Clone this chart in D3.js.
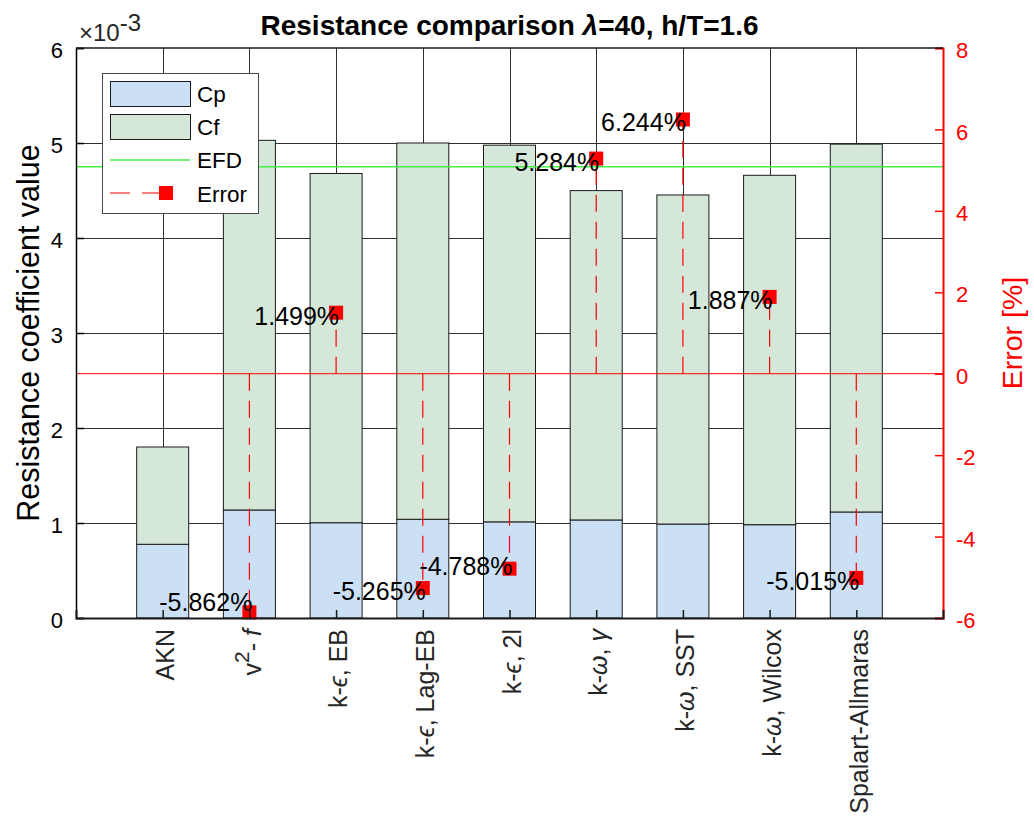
<!DOCTYPE html>
<html>
<head>
<meta charset="utf-8">
<script src="https://cdn.jsdelivr.net/npm/d3@7"></script>
<style>
  body { margin: 0; background: #fff; }
  svg { display: block; font-family: "Liberation Sans", Arial, "DejaVu Sans", sans-serif; }
</style>
</head>
<body>
<svg id="chart" width="1034" height="823"></svg>
<script>
// Turbulence models, in plotting order
const categories = ["AKN", "v2-f", "k-eps EB", "k-eps Lag-EB", "k-eps 2l",
                    "k-omega gamma", "k-omega SST", "k-omega Wilcox", "Spalart-Allmaras"];

// Tick labels as runs of [text, style]; style: "it" italic, "sup" superscript
const tickLabels = [
  [["AKN"]],
  [["v"], ["2", "sup"], ["- "], ["f", "it"]],
  [["k-"], ["\u03F5", "it"], [", EB"]],
  [["k-"], ["\u03F5", "it"], [", Lag-EB"]],
  [["k-"], ["\u03F5", "it"], [", 2l"]],
  [["k-"], ["\u03C9", "it"], [", "], ["\u03B3", "it"]],
  [["k-"], ["\u03C9", "it"], [", SST"]],
  [["k-"], ["\u03C9", "it"], [", Wilcox"]],
  [["Spalart-Allmaras"]]
];

// Resistance coefficients (x 10^-3): pressure and friction parts
const cp = [0.776, 1.137, 1.003, 1.039, 1.012, 1.032, 0.989, 0.982, 1.116];
const cf = [1.024, 3.891, 3.676, 3.961, 3.965, 3.467, 3.464, 3.678, 3.872];

// Experimental (EFD) total resistance coefficient (x 10^-3)
const efd = 4.75;

// Error of each model against EFD, in percent (AKN not evaluated)
const errorPct = [null, -5.862, 1.499, -5.265, -4.788, 5.284, 6.244, 1.887, -5.015];

const leftTicks = [0, 1, 2, 3, 4, 5, 6];
const rightTicks = [-6, -4, -2, 0, 2, 4, 6, 8];

// ---- layout ----
const L = 76, R = 943, T = 48, B = 618;

const svg = d3.select("#chart");

const x = d3.scaleLinear().domain([0, categories.length + 1]).range([L, R]);
const y = d3.scaleLinear().domain([0, 6]).range([B, T]);
const yR = d3.scaleLinear().domain([-6, 8]).range([B, T]);
const barW = (x(1) - x(0)) * 0.6;

const colCp = "#cbdff5";
const colCf = "#d5e7d9";
const red = "#ff0000";
const hyphen = s => s.replace(/\u2212/g, "-");

// ---- grid ----
const grid = svg.append("g").attr("stroke", "#303030").attr("stroke-width", 1);
categories.forEach((c, i) => {
  const gx = Math.round(x(i + 1)) + 0.5;
  grid.append("line").attr("x1", gx).attr("x2", gx).attr("y1", T).attr("y2", B);
});
leftTicks.filter(v => v > 0 && v < 6).forEach(v => {
  const gy = Math.round(y(v)) + 0.5;
  grid.append("line").attr("x1", L).attr("x2", R).attr("y1", gy).attr("y2", gy);
});

// ---- stacked bars ----
const bars = svg.append("g").attr("stroke", "#1a1a1a").attr("stroke-width", 1);
bars.selectAll("rect.cp").data(cp).join("rect")
  .attr("class", "cp")
  .attr("x", (d, i) => x(i + 1) - barW / 2)
  .attr("width", barW)
  .attr("y", d => y(d))
  .attr("height", d => y(0) - y(d))
  .attr("fill", colCp);
bars.selectAll("rect.cf").data(cf).join("rect")
  .attr("class", "cf")
  .attr("x", (d, i) => x(i + 1) - barW / 2)
  .attr("width", barW)
  .attr("y", (d, i) => y(cp[i] + d))
  .attr("height", (d, i) => y(cp[i]) - y(cp[i] + d))
  .attr("fill", colCf);

// ---- EFD reference line ----
svg.append("line")
  .attr("x1", L).attr("x2", R)
  .attr("y1", y(efd)).attr("y2", y(efd))
  .attr("stroke", "#45f045").attr("stroke-width", 1.6);

// ---- error stems (right axis) ----
svg.append("line")
  .attr("x1", L).attr("x2", R)
  .attr("y1", yR(0)).attr("y2", yR(0))
  .attr("stroke", red).attr("stroke-width", 1);

const errPts = errorPct.map((e, i) => ({ e, i })).filter(d => d.e !== null);
const stems = svg.append("g");
stems.selectAll("line").data(errPts).join("line")
  .attr("x1", d => x(d.i + 1)).attr("x2", d => x(d.i + 1))
  .attr("y1", yR(0)).attr("y2", d => yR(d.e))
  .attr("stroke", red).attr("stroke-width", 1.2)
  .attr("stroke-dasharray", "17,10");
const mk = 14;
stems.selectAll("rect").data(errPts).join("rect")
  .attr("x", d => x(d.i + 1) - mk / 2)
  .attr("y", d => yR(d.e) - mk / 2)
  .attr("width", mk).attr("height", mk)
  .attr("fill", red);

// value labels, kept clear of the bottom axis
const labelNudge = { 1: -13, 4: -6 };
stems.selectAll("text").data(errPts).join("text")
  .attr("x", d => x(d.i + 1) + 3)
  .attr("y", d => yR(d.e) + (labelNudge[d.i] || 0))
  .attr("dy", "0.48em")
  .attr("text-anchor", "end")
  .attr("font-size", 25)
  .attr("fill", "#000")
  .text(d => hyphen(d3.format(".3f")(d.e)) + "%");

// ---- axes ----
const intFmt = d => hyphen(d3.format("d")(d));

const axL = svg.append("g").attr("transform", `translate(${L},0)`)
  .call(d3.axisLeft(y).tickValues(leftTicks).tickSize(-8).tickPadding(13).tickFormat(intFmt));
axL.select(".domain").attr("stroke", "#000").attr("stroke-width", 1.5);
axL.selectAll(".tick line").attr("stroke", "#000").attr("stroke-width", 1.5);
axL.selectAll(".tick text").attr("font-size", 22).attr("font-family", null).attr("dy", "0.44em").attr("fill", "#000");

const axR = svg.append("g").attr("transform", `translate(${R},0)`)
  .call(d3.axisRight(yR).tickValues(rightTicks).tickSize(-8).tickPadding(13).tickFormat(intFmt));
axR.select(".domain").attr("stroke", red).attr("stroke-width", 2);
axR.selectAll(".tick line").attr("stroke", red).attr("stroke-width", 1.5);
axR.selectAll(".tick text").attr("font-size", 22).attr("font-family", null).attr("dy", "0.44em").attr("fill", red);

const axB = svg.append("g").attr("transform", `translate(0,${B})`)
  .call(d3.axisBottom(x).tickValues(d3.range(1, categories.length + 1)).tickSize(-8).tickFormat(""));
axB.select(".domain").attr("stroke", "#1a1a1a").attr("stroke-width", 2);
axB.selectAll(".tick line").attr("stroke", "#1a1a1a").attr("stroke-width", 1.5);

svg.append("line").attr("x1", L).attr("x2", R).attr("y1", T).attr("y2", T)
  .attr("stroke", "#1a1a1a").attr("stroke-width", 1.5);

// rotated category labels
tickLabels.forEach((runs, i) => {
  const t = svg.append("text")
    .attr("transform", `translate(${x(i + 1)},${B + 11}) rotate(-90)`)
    .attr("text-anchor", "end")
    .attr("dy", "0.45em")
    .attr("font-size", 25)
    .attr("fill", "#262626");
  runs.forEach(([s, st], k) => {
    const sp = t.append("tspan").text(s);
    if (st === "it") sp.attr("font-style", "italic");
    if (st === "sup") sp.attr("font-size", 21).attr("dy", "-0.55em");
    else if (k > 0 && runs[k - 1][1] === "sup") sp.attr("dy", "0.46em");
  });
});

// exponent marker for the left axis
const ex = svg.append("text").attr("x", 79).attr("y", 41).attr("font-size", 24).attr("fill", "#262626");
ex.append("tspan").text("\u00D710");
ex.append("tspan").attr("dy", -10).text("-3");

// axis titles
svg.append("text")
  .attr("transform", `translate(39,${(T + B) / 2}) rotate(-90)`)
  .attr("text-anchor", "middle")
  .attr("font-size", 30.5)
  .attr("fill", "#000")
  .text("Resistance coefficient value");

svg.append("text")
  .attr("transform", `translate(1022,${(T + B) / 2}) rotate(-90)`)
  .attr("text-anchor", "middle")
  .attr("font-size", 28.5)
  .attr("fill", red)
  .text("Error [%]");

// chart title
const title = svg.append("text")
  .attr("x", (L + R) / 2).attr("y", 35)
  .attr("text-anchor", "middle")
  .attr("font-size", 28)
  .attr("font-weight", "bold")
  .attr("fill", "#000");
title.append("tspan").text("Resistance comparison ");
title.append("tspan").attr("font-style", "italic").text("\u03BB");
title.append("tspan").text("=40, h/T=1.6");

// ---- legend ----
const lg = svg.append("g");
lg.append("rect").attr("x", 102.5).attr("y", 73.5).attr("width", 156).attr("height", 140)
  .attr("fill", "#fff").attr("stroke", "#4a4a4a").attr("stroke-width", 1);
lg.append("rect").attr("x", 110.5).attr("y", 81.5).attr("width", 80).attr("height", 25)
  .attr("fill", colCp).attr("stroke", "#1a1a1a");
lg.append("rect").attr("x", 110.5).attr("y", 114.5).attr("width", 80).attr("height", 25)
  .attr("fill", colCf).attr("stroke", "#1a1a1a");
lg.append("line").attr("x1", 110).attr("x2", 190).attr("y1", 160).attr("y2", 160)
  .attr("stroke", "#45f045").attr("stroke-width", 1.6);
lg.append("line").attr("x1", 110).attr("x2", 166).attr("y1", 193).attr("y2", 193)
  .attr("stroke", red).attr("stroke-width", 1.2).attr("stroke-dasharray", "20,12");
lg.append("rect").attr("x", 166 - mk / 2).attr("y", 193 - mk / 2).attr("width", mk).attr("height", mk)
  .attr("fill", red);
[["Cp", 102], ["Cf", 135], ["EFD", 168], ["Error", 202]].forEach(([s, by]) => {
  lg.append("text").attr("x", 197).attr("y", by).attr("font-size", 22.5).attr("fill", "#000").text(s);
});
</script>
</body>
</html>
